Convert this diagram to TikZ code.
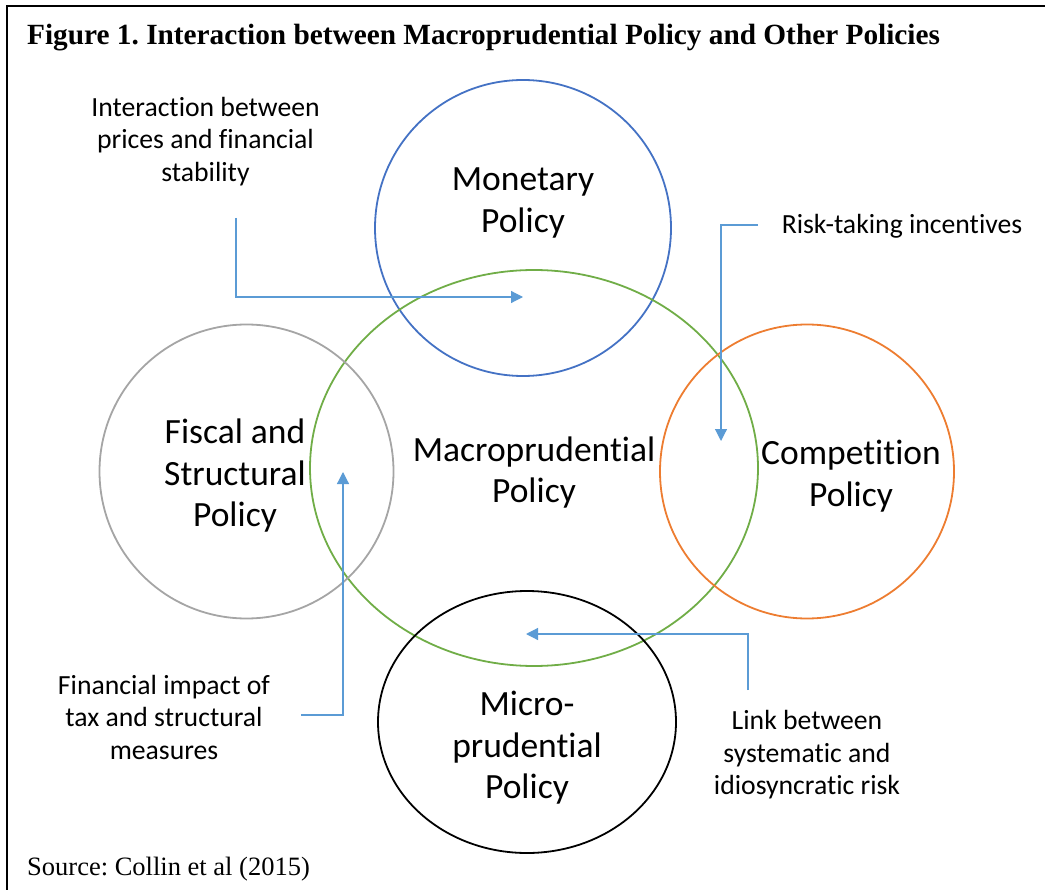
\documentclass[tikz,border=0pt]{standalone}
\usepackage{fontspec}
\setmainfont{Liberation Serif}
\newfontfamily\carlitofont[Ligatures=NoCommon]{Carlito}
\usetikzlibrary{arrows.meta}
\definecolor{cblue}{HTML}{4472C4}
\definecolor{cgreen}{HTML}{70AD47}
\definecolor{cgray}{HTML}{A5A5A5}
\definecolor{corange}{HTML}{ED7D31}
\definecolor{carrow}{HTML}{5B9BD5}
\frenchspacing
\begin{document}
\begin{tikzpicture}[x=1pt,y=-1pt,
  ring/.style={line width=1.8pt},
  big/.style={font=\carlitofont\fontsize{35.5}{41.5}\selectfont, align=center, inner sep=0pt},
  small/.style={font=\carlitofont\fontsize{27.7}{32.5}\selectfont, align=center, inner sep=0pt},
  link/.style={draw=carrow, line width=1.2pt, -{Triangle[length=12pt,width=12pt]}}]
\useasboundingbox (0,0) rectangle (1049,890);
% frame
\draw[line width=1.2pt] (7,890) -- (7,6) -- (1045,6);
% title and source
\node[anchor=west, inner sep=0pt, font=\bfseries\fontsize{29.3}{33}\selectfont] (title) at (27,38) {Figure 1. Interaction between Macroprudential Policy and Other Policies};
\node[anchor=west, inner sep=0pt, font=\fontsize{26.5}{30}\selectfont] (source) at (27,869) {Source: Collin et al (2015)};
% circles
\draw[ring, cblue] (523,228) circle (148);
\draw[ring, cgreen] (534,468) ellipse [x radius=224, y radius=198];
\draw[ring, cgray] (246.5,471.5) circle (147);
\draw[ring, corange] (807,471.5) circle (147);
\draw[ring, black] (527,722) ellipse [x radius=149, y radius=131];
% circle labels
\node[big] (mon) at (523,203) {Monetary\\Policy};
\node[big] (fis) at (235,476) {Fiscal and\\Structural\\Policy};
\node[big] (mac) at (534,472.5) {Macroprudential\\Policy};
\node[big] (com) at (851,476) {Competition\\Policy};
\node[big] (mic) at (527,748) {Micro-\\prudential\\Policy};
% side labels
\node[small] (l1) at (205.5,141.5) {Interaction between\\prices and financial\\stability};
\node[small] (l2) at (902,226) {Risk-taking incentives};
\node[small] (l3) at (164,717) {Financial impact of\\tax and structural\\measures};
\node[small] (l4) at (807,755) {Link between\\systematic and\\idiosyncratic risk};
% arrow anchors
\coordinate (a1s) at (236,218);
\coordinate (a1e) at (523,297);
\coordinate (a2s) at (758,225);
\coordinate (a2e) at (721,441);
\coordinate (a3s) at (301,715);
\coordinate (a3e) at (343,472);
\coordinate (a4s) at (748,690);
\coordinate (a4e) at (526,634);
\draw[link] (a1s) |- (a1e);
\draw[link] (a2s) -| (a2e);
\draw[link] (a3s) -| (a3e);
\draw[link] (a4s) |- (a4e);
\end{tikzpicture}
\end{document}
